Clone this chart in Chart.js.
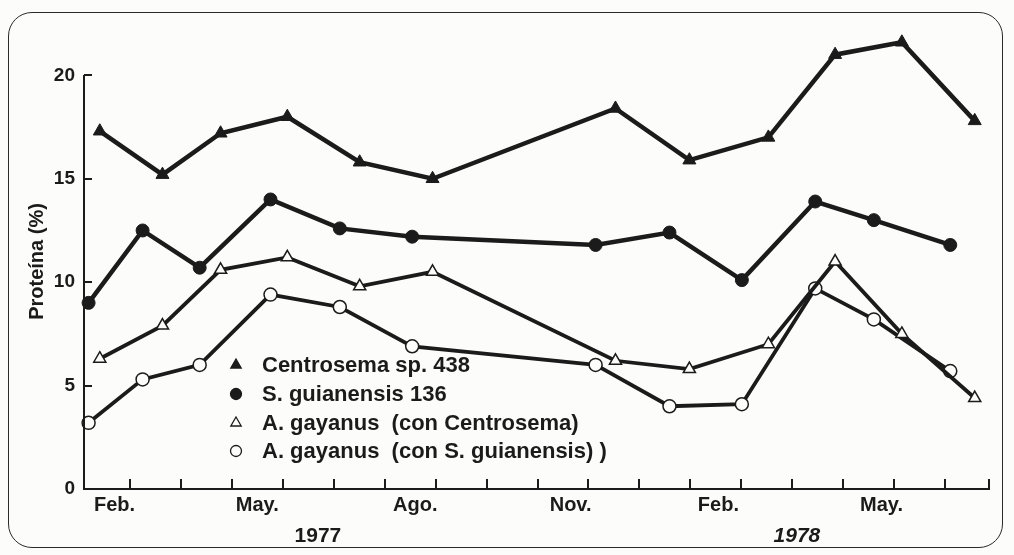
<!DOCTYPE html>
<html>
<head>
<meta charset="utf-8">
<script src="https://cdn.jsdelivr.net/npm/chart.js@4.4.1/dist/chart.umd.min.js"></script>
<style>
    body { margin: 0; background: #fcfcfa; }
    #wrap { position: relative; width: 1014px; height: 555px; }
    #frame {
        position: absolute; left: 8px; top: 12px; width: 993px; height: 534px;
        border: 1.6px solid #2a2a2a; border-radius: 24px; pointer-events: none;
    }
    canvas { position: absolute; left: 0; top: 0; }
</style>
</head>
<body>
<div id="wrap">
    <canvas id="chart" width="1014" height="555"></canvas>
    <div id="frame"></div>
</div>
<script>
// x values are months counted from 1 Jan 1977 (1 = 1 Feb 1977, 13 = 1 Feb 1978)
const circleMonths   = [1.19, 2.25, 3.37, 4.76, 6.12, 7.54, 11.14, 12.59, 14.01, 15.45, 16.60, 18.10];
const triangleMonths = [1.41, 2.64, 3.78, 5.09, 6.51, 7.94, 11.53, 12.98, 14.53, 15.84, 17.15, 18.58];

const centrosema   = [17.3, 15.2, 17.2, 18.0, 15.8, 15.0, 18.4, 15.9, 17.0, 21.0, 21.6, 17.8];
const guianensis   = [9.0, 12.5, 10.7, 14.0, 12.6, 12.2, 11.8, 12.4, 10.1, 13.9, 13.0, 11.8];
const gayanusCentr = [6.3, 7.9, 10.6, 11.2, 9.8, 10.5, 6.2, 5.8, 7.0, 11.0, 7.5, 4.4];
const gayanusGuian = [3.2, 5.3, 6.0, 9.4, 8.8, 6.9, 6.0, 4.0, 4.1, 9.7, 8.2, 5.7];

const seriesLabels = [
    'Centrosema sp. 438',
    'S. guianensis 136',
    'A. gayanus  (con Centrosema)',
    'A. gayanus  (con S. guianensis) )'
];

const monthLabels = ['Feb.', 'May.', 'Ago.', 'Nov.', 'Feb.', 'May.'];
const monthLabelPos = [1.7, 4.5, 7.6, 10.65, 13.55, 16.75];
const monthTicks = [2, 3, 4, 5, 6, 7, 8, 9, 10, 11, 12, 13, 14, 15, 16, 17, 18, 18.86];
const yearLabels = ['1977', '1978'];
const yearPos = [5.69, 15.09];
const yTicks = [0, 5, 10, 15, 20];

const ink = '#1b1b1b';
const paper = '#fcfcfa';
const family = "'Liberation Sans', Arial, sans-serif";

function points(xs, ys) {
    return xs.map((x, i) => ({ x: x, y: ys[i] }));
}

// y axis line (0..20 only) and short inward tick marks on both axes
const tickMarks = {
    id: 'tickMarks',
    afterDraw(chart) {
        const ctx = chart.ctx;
        const x = chart.scales.x, y = chart.scales.y;
        const bottom = chart.chartArea.bottom, left = chart.chartArea.left;
        ctx.save();
        ctx.strokeStyle = ink;
        ctx.lineWidth = 2;
        ctx.beginPath();
        ctx.moveTo(left, bottom + 1);
        ctx.lineTo(left, Math.round(y.getPixelForValue(yTicks[yTicks.length - 1])));
        monthTicks.forEach(m => {
            const px = Math.round(x.getPixelForValue(m));
            ctx.moveTo(px, bottom);
            ctx.lineTo(px, bottom - 10);
        });
        yTicks.forEach(v => {
            const py = Math.round(y.getPixelForValue(v));
            ctx.moveTo(left, py);
            ctx.lineTo(left + 8, py);
        });
        ctx.stroke();
        ctx.restore();
    }
};

// legend drawn inside the plot, under the curves' lower left part
const insideLegend = {
    id: 'insideLegend',
    afterDraw(chart) {
        const ctx = chart.ctx;
        const rows = [365, 394, 423, 451];
        ctx.save();
        ctx.font = 'bold 22px ' + family;
        ctx.textBaseline = 'middle';
        chart.data.datasets.forEach((ds, i) => {
            const filled = ds.pointBackgroundColor === ink;
            ctx.fillStyle = filled ? ink : paper;
            ctx.strokeStyle = ink;
            ctx.lineWidth = 1.3;
            Chart.helpers.drawPoint(ctx, {
                pointStyle: ds.pointStyle,
                radius: ds.pointStyle === 'triangle' ? 6 : 5.5,
                borderWidth: 1.3,
                rotation: 0
            }, 236, rows[i]);
            ctx.fillStyle = ink;
            ctx.fillText(ds.label, 262, rows[i] + 1);
        });
        ctx.restore();
    }
};

new Chart(document.getElementById('chart'), {
    type: 'line',
    data: {
        datasets: [
            {
                label: seriesLabels[0],
                data: points(triangleMonths, centrosema),
                borderColor: ink, borderWidth: 4.5,
                pointStyle: 'triangle', pointRadius: 7.5,
                pointBackgroundColor: ink, pointBorderColor: ink, pointBorderWidth: 1
            },
            {
                label: seriesLabels[1],
                data: points(circleMonths, guianensis),
                borderColor: ink, borderWidth: 4.5,
                pointStyle: 'circle', pointRadius: 6.5,
                pointBackgroundColor: ink, pointBorderColor: ink, pointBorderWidth: 1
            },
            {
                label: seriesLabels[2],
                data: points(triangleMonths, gayanusCentr),
                borderColor: ink, borderWidth: 3.8,
                pointStyle: 'triangle', pointRadius: 7,
                pointBackgroundColor: paper, pointBorderColor: ink, pointBorderWidth: 1.5
            },
            {
                label: seriesLabels[3],
                data: points(circleMonths, gayanusGuian),
                borderColor: ink, borderWidth: 3.8,
                pointStyle: 'circle', pointRadius: 6.5,
                pointBackgroundColor: paper, pointBorderColor: ink, pointBorderWidth: 1.5
            }
        ]
    },
    options: {
        responsive: false,
        animation: false,
        devicePixelRatio: 1,
        layout: { padding: { top: 34, left: 20, right: 25, bottom: 0 } },
        elements: { line: { tension: 0 } },
        datasets: { line: { clip: false } },
        plugins: {
            legend: { display: false },
            tooltip: { enabled: false }
        },
        scales: {
            x: {
                type: 'linear',
                position: 'bottom',
                weight: 0,
                min: 1.1,
                max: 18.86,
                grid: { display: false, drawTicks: false },
                border: { display: true, color: ink, width: 2 },
                afterBuildTicks: scale => { scale.ticks = monthLabelPos.map(v => ({ value: v })); },
                afterFit: scale => { scale.height = 32; },
                ticks: {
                    autoSkip: false, maxRotation: 0, padding: 4,
                    color: ink,
                    font: { family: family, size: 20, weight: 'bold' },
                    callback: (v, i) => monthLabels[i]
                }
            },
            years: {
                type: 'linear',
                position: 'bottom',
                axis: 'x',
                weight: 1,
                min: 1.1,
                max: 18.86,
                grid: { display: false, drawTicks: false },
                border: { display: false },
                afterBuildTicks: scale => { scale.ticks = yearPos.map(v => ({ value: v })); },
                afterFit: scale => { scale.height = 34; },
                ticks: {
                    autoSkip: false, maxRotation: 0, padding: 3,
                    color: ink,
                    font: c => ({ family: family, size: 21, weight: 'bold', style: c.index === 1 ? 'italic' : 'normal' }),
                    callback: (v, i) => yearLabels[i]
                }
            },
            y: {
                min: 0,
                max: 22,
                grid: { display: false, drawTicks: false },
                border: { display: false },
                afterBuildTicks: scale => { scale.ticks = yTicks.map(v => ({ value: v })); },
                afterFit: scale => { scale.width = 64; },
                ticks: {
                    padding: 9,
                    color: ink,
                    font: { family: family, size: 19, weight: 'bold' }
                },
                title: {
                    display: true,
                    text: 'Proteína (%)',
                    color: ink,
                    padding: { top: 5, bottom: 0 },
                    font: { family: family, size: 20, weight: 'bold' }
                }
            }
        }
    },
    plugins: [tickMarks, insideLegend]
});
</script>
</body>
</html>
